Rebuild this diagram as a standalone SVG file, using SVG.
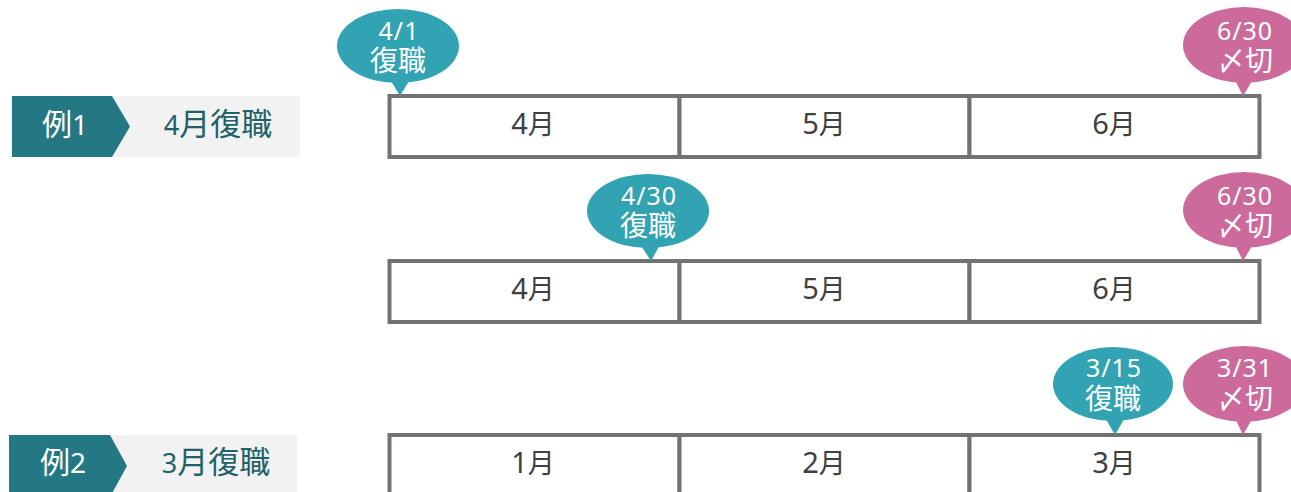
<svg xmlns="http://www.w3.org/2000/svg" width="1291" height="492" viewBox="0 0 1291 492">
<style>
.cell{fill:#ffffff;stroke:#767171;stroke-width:4}
.tag{fill:#237883}
.tagbg{fill:#f2f2f2}
.teal{fill:#31a3b2}
.pink{fill:#cc6b9b}
.t{font-family:"Noto Sans CJK JP","Noto Sans",sans-serif;text-anchor:middle}
.d{font-family:"Noto Sans","Noto Sans CJK JP",sans-serif}
.w{fill:#ffffff}
.m{fill:#404040;font-size:27px}
.lbl{fill:#1f6169;font-size:31px}
.b{font-size:28px}
.n{font-size:25px;letter-spacing:1px}
</style>
<rect width="1291" height="492" fill="#ffffff"/>

<g id="label-ex1">
  <rect class="tagbg" x="12" y="96" width="288" height="61"/>
  <polygon class="tag" points="12,96 112,96 130,126.5 112,157 12,157"/>
  <text class="t w" x="65" y="135" font-size="30">例<tspan class="d" font-size="28">1</tspan></text>
  <text class="t lbl" x="218" y="135"><tspan class="d" font-size="27">4</tspan>月復職</text>
</g>

<g id="label-ex2">
  <rect class="tagbg" x="9" y="435" width="288" height="62"/>
  <polygon class="tag" points="9,435 110,435 127,466 110,497 9,497"/>
  <text class="t w" x="63" y="473" font-size="30">例<tspan class="d" font-size="28">2</tspan></text>
  <text class="t lbl" x="216" y="473"><tspan class="d" font-size="27">3</tspan>月復職</text>
</g>

<g id="row1">
  <rect class="cell" x="389.5" y="96" width="290" height="61"/>
  <rect class="cell" x="679.5" y="96" width="290" height="61"/>
  <rect class="cell" x="969.5" y="96" width="290" height="61"/>
  <text class="t m" x="533" y="134"><tspan class="d" font-size="29">4</tspan>月</text>
  <text class="t m" x="824" y="134"><tspan class="d" font-size="29">5</tspan>月</text>
  <text class="t m" x="1114" y="134"><tspan class="d" font-size="29">6</tspan>月</text>
</g>

<g id="row2">
  <rect class="cell" x="389.5" y="261" width="290" height="61"/>
  <rect class="cell" x="679.5" y="261" width="290" height="61"/>
  <rect class="cell" x="969.5" y="261" width="290" height="61"/>
  <text class="t m" x="533" y="299"><tspan class="d" font-size="29">4</tspan>月</text>
  <text class="t m" x="824" y="299"><tspan class="d" font-size="29">5</tspan>月</text>
  <text class="t m" x="1114" y="299"><tspan class="d" font-size="29">6</tspan>月</text>
</g>

<g id="row3">
  <rect class="cell" x="389.5" y="435" width="290" height="61"/>
  <rect class="cell" x="679.5" y="435" width="290" height="61"/>
  <rect class="cell" x="969.5" y="435" width="290" height="61"/>
  <text class="t m" x="533" y="473"><tspan class="d" font-size="29">1</tspan>月</text>
  <text class="t m" x="824" y="473"><tspan class="d" font-size="29">2</tspan>月</text>
  <text class="t m" x="1114" y="473"><tspan class="d" font-size="29">3</tspan>月</text>
</g>

<g id="callout-0401">
  <ellipse class="teal" cx="398" cy="46" rx="61" ry="37"/>
  <polygon class="teal" points="388,76 412,76 400,96"/>
  <text class="t w b"><tspan class="d n" x="399" y="40">4/1</tspan><tspan x="398" y="71">復職</tspan></text>
</g>

<g id="callout-0630a">
  <ellipse class="pink" cx="1244" cy="45" rx="61" ry="38"/>
  <polygon class="pink" points="1233,76 1255,76 1243,96"/>
  <text class="t w b"><tspan class="d n" x="1245" y="40">6/30</tspan><tspan x="1245" y="71">〆切</tspan></text>
</g>

<g id="callout-0430">
  <ellipse class="teal" cx="648" cy="211" rx="61" ry="37"/>
  <polygon class="teal" points="638,241 662,241 651,261"/>
  <text class="t w b"><tspan class="d n" x="649" y="205">4/30</tspan><tspan x="648" y="236">復職</tspan></text>
</g>

<g id="callout-0630b">
  <ellipse class="pink" cx="1244" cy="210" rx="61" ry="38"/>
  <polygon class="pink" points="1233,241 1255,241 1243,261"/>
  <text class="t w b"><tspan class="d n" x="1245" y="205">6/30</tspan><tspan x="1245" y="236">〆切</tspan></text>
</g>

<g id="callout-0315">
  <ellipse class="teal" cx="1113" cy="384" rx="60" ry="37"/>
  <polygon class="teal" points="1103,414 1127,414 1115,435"/>
  <text class="t w b"><tspan class="d n" x="1114" y="377">3/15</tspan><tspan x="1113" y="409">復職</tspan></text>
</g>

<g id="callout-0331">
  <ellipse class="pink" cx="1244" cy="384" rx="61" ry="38"/>
  <polygon class="pink" points="1233,414 1255,414 1243,435"/>
  <text class="t w b"><tspan class="d n" x="1245" y="377">3/31</tspan><tspan x="1245" y="409">〆切</tspan></text>
</g>

<g id="connectors"/>
</svg>
